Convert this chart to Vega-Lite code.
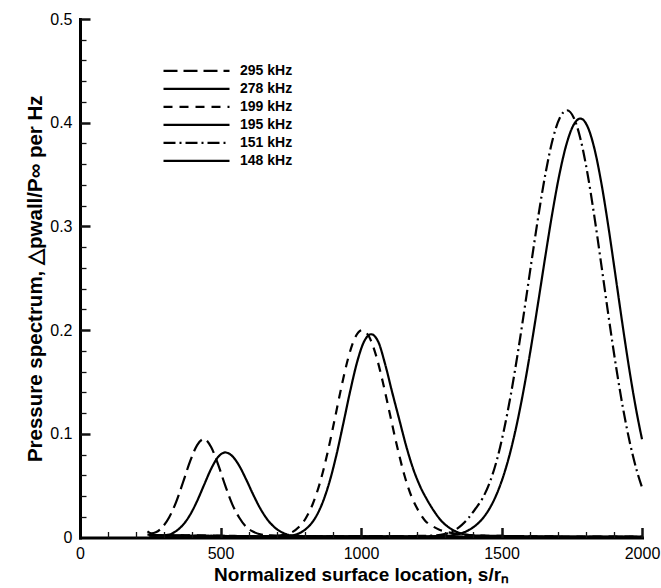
{
"$schema": "https://vega.github.io/schema/vega-lite/v6.json",
"width": 562,
"height": 518.5,
"autosize": {"type": "none"},
"padding": {"left": 80, "top": 19, "right": 19, "bottom": 50.5},
"background": "white",
"config": {"view": {"stroke": null}, "font": "Liberation Sans"},
"data": {"values": [
{"s":240,"p":0.006,"f":"295 kHz"},{"s":255,"p":0.004,"f":"295 kHz"},{"s":270,"p":0.005,"f":"295 kHz"},{"s":292,"p":0.0096,"f":"295 kHz"},{"s":317,"p":0.0193,"f":"295 kHz"},{"s":342,"p":0.0342,"f":"295 kHz"},{"s":367,"p":0.0535,"f":"295 kHz"},{"s":392,"p":0.0736,"f":"295 kHz"},{"s":417,"p":0.0891,"f":"295 kHz"},{"s":442,"p":0.095,"f":"295 kHz"},{"s":467,"p":0.087,"f":"295 kHz"},{"s":492,"p":0.070,"f":"295 kHz"},{"s":517,"p":0.050,"f":"295 kHz"},{"s":542,"p":0.032,"f":"295 kHz"},{"s":567,"p":0.019,"f":"295 kHz"},{"s":592,"p":0.010,"f":"295 kHz"},{"s":617,"p":0.0055,"f":"295 kHz"},{"s":642,"p":0.003,"f":"295 kHz"},{"s":680,"p":0.002,"f":"295 kHz"},{"s":750,"p":0.0015,"f":"295 kHz"},{"s":900,"p":0.001,"f":"295 kHz"},{"s":1100,"p":0.001,"f":"295 kHz"},{"s":1300,"p":0.001,"f":"295 kHz"},{"s":1500,"p":0.0008,"f":"295 kHz"},{"s":1750,"p":0.0006,"f":"295 kHz"},{"s":2000,"p":0.0005,"f":"295 kHz"},
{"s":240,"p":0.003,"f":"278 kHz"},{"s":270,"p":0.002,"f":"278 kHz"},{"s":292,"p":0.002,"f":"278 kHz"},{"s":317,"p":0.0028,"f":"278 kHz"},{"s":342,"p":0.0062,"f":"278 kHz"},{"s":367,"p":0.0123,"f":"278 kHz"},{"s":392,"p":0.022,"f":"278 kHz"},{"s":417,"p":0.0353,"f":"278 kHz"},{"s":442,"p":0.051,"f":"278 kHz"},{"s":467,"p":0.0664,"f":"278 kHz"},{"s":492,"p":0.0778,"f":"278 kHz"},{"s":517,"p":0.082,"f":"278 kHz"},{"s":542,"p":0.0785,"f":"278 kHz"},{"s":567,"p":0.069,"f":"278 kHz"},{"s":592,"p":0.0556,"f":"278 kHz"},{"s":617,"p":0.041,"f":"278 kHz"},{"s":642,"p":0.0278,"f":"278 kHz"},{"s":667,"p":0.0173,"f":"278 kHz"},{"s":692,"p":0.0099,"f":"278 kHz"},{"s":717,"p":0.0052,"f":"278 kHz"},{"s":742,"p":0.0025,"f":"278 kHz"},{"s":767,"p":0.0015,"f":"278 kHz"},{"s":850,"p":0.001,"f":"278 kHz"},{"s":1000,"p":0.001,"f":"278 kHz"},{"s":1200,"p":0.0008,"f":"278 kHz"},{"s":1500,"p":0.0007,"f":"278 kHz"},{"s":2000,"p":0.0005,"f":"278 kHz"},
{"s":245,"p":0.002,"f":"199 kHz"},{"s":400,"p":0.002,"f":"199 kHz"},{"s":550,"p":0.0015,"f":"199 kHz"},{"s":650,"p":0.001,"f":"199 kHz"},{"s":704,"p":0.0015,"f":"199 kHz"},{"s":729,"p":0.003,"f":"199 kHz"},{"s":754,"p":0.005,"f":"199 kHz"},{"s":779,"p":0.0101,"f":"199 kHz"},{"s":804,"p":0.0188,"f":"199 kHz"},{"s":829,"p":0.0328,"f":"199 kHz"},{"s":854,"p":0.0529,"f":"199 kHz"},{"s":879,"p":0.0795,"f":"199 kHz"},{"s":904,"p":0.1108,"f":"199 kHz"},{"s":929,"p":0.1435,"f":"199 kHz"},{"s":954,"p":0.1726,"f":"199 kHz"},{"s":979,"p":0.1928,"f":"199 kHz"},{"s":1004,"p":0.200,"f":"199 kHz"},{"s":1029,"p":0.1935,"f":"199 kHz"},{"s":1054,"p":0.1751,"f":"199 kHz"},{"s":1079,"p":0.1483,"f":"199 kHz"},{"s":1104,"p":0.1176,"f":"199 kHz"},{"s":1129,"p":0.0872,"f":"199 kHz"},{"s":1154,"p":0.0605,"f":"199 kHz"},{"s":1179,"p":0.040,"f":"199 kHz"},{"s":1204,"p":0.026,"f":"199 kHz"},{"s":1229,"p":0.016,"f":"199 kHz"},{"s":1254,"p":0.011,"f":"199 kHz"},{"s":1279,"p":0.0075,"f":"199 kHz"},{"s":1304,"p":0.0055,"f":"199 kHz"},{"s":1330,"p":0.004,"f":"199 kHz"},{"s":1360,"p":0.003,"f":"199 kHz"},{"s":1400,"p":0.002,"f":"199 kHz"},{"s":1500,"p":0.0015,"f":"199 kHz"},{"s":1700,"p":0.001,"f":"199 kHz"},{"s":2000,"p":0.0008,"f":"199 kHz"},
{"s":245,"p":0.002,"f":"195 kHz"},{"s":450,"p":0.0015,"f":"195 kHz"},{"s":650,"p":0.001,"f":"195 kHz"},{"s":736,"p":0.001,"f":"195 kHz"},{"s":761,"p":0.0023,"f":"195 kHz"},{"s":786,"p":0.0049,"f":"195 kHz"},{"s":811,"p":0.0099,"f":"195 kHz"},{"s":836,"p":0.0184,"f":"195 kHz"},{"s":861,"p":0.0321,"f":"195 kHz"},{"s":886,"p":0.0519,"f":"195 kHz"},{"s":911,"p":0.0778,"f":"195 kHz"},{"s":936,"p":0.1086,"f":"195 kHz"},{"s":961,"p":0.1405,"f":"195 kHz"},{"s":986,"p":0.169,"f":"195 kHz"},{"s":1011,"p":0.189,"f":"195 kHz"},{"s":1036,"p":0.196,"f":"195 kHz"},{"s":1061,"p":0.189,"f":"195 kHz"},{"s":1086,"p":0.167,"f":"195 kHz"},{"s":1111,"p":0.140,"f":"195 kHz"},{"s":1136,"p":0.114,"f":"195 kHz"},{"s":1161,"p":0.088,"f":"195 kHz"},{"s":1186,"p":0.066,"f":"195 kHz"},{"s":1211,"p":0.049,"f":"195 kHz"},{"s":1236,"p":0.036,"f":"195 kHz"},{"s":1261,"p":0.025,"f":"195 kHz"},{"s":1286,"p":0.016,"f":"195 kHz"},{"s":1311,"p":0.010,"f":"195 kHz"},{"s":1336,"p":0.006,"f":"195 kHz"},{"s":1361,"p":0.0035,"f":"195 kHz"},{"s":1400,"p":0.002,"f":"195 kHz"},{"s":1500,"p":0.0015,"f":"195 kHz"},{"s":1700,"p":0.001,"f":"195 kHz"},{"s":2000,"p":0.0008,"f":"195 kHz"},
{"s":250,"p":0.002,"f":"151 kHz"},{"s":500,"p":0.0015,"f":"151 kHz"},{"s":800,"p":0.001,"f":"151 kHz"},{"s":1100,"p":0.001,"f":"151 kHz"},{"s":1200,"p":0.0015,"f":"151 kHz"},{"s":1258,"p":0.002,"f":"151 kHz"},{"s":1283,"p":0.0025,"f":"151 kHz"},{"s":1308,"p":0.004,"f":"151 kHz"},{"s":1333,"p":0.007,"f":"151 kHz"},{"s":1358,"p":0.012,"f":"151 kHz"},{"s":1383,"p":0.019,"f":"151 kHz"},{"s":1408,"p":0.028,"f":"151 kHz"},{"s":1433,"p":0.038,"f":"151 kHz"},{"s":1458,"p":0.053,"f":"151 kHz"},{"s":1483,"p":0.0742,"f":"151 kHz"},{"s":1508,"p":0.1028,"f":"151 kHz"},{"s":1533,"p":0.1375,"f":"151 kHz"},{"s":1558,"p":0.1779,"f":"151 kHz"},{"s":1583,"p":0.2223,"f":"151 kHz"},{"s":1608,"p":0.2684,"f":"151 kHz"},{"s":1633,"p":0.3132,"f":"151 kHz"},{"s":1658,"p":0.3531,"f":"151 kHz"},{"s":1683,"p":0.3847,"f":"151 kHz"},{"s":1708,"p":0.405,"f":"151 kHz"},{"s":1733,"p":0.412,"f":"151 kHz"},{"s":1758,"p":0.4043,"f":"151 kHz"},{"s":1783,"p":0.3822,"f":"151 kHz"},{"s":1808,"p":0.3479,"f":"151 kHz"},{"s":1833,"p":0.305,"f":"151 kHz"},{"s":1858,"p":0.2576,"f":"151 kHz"},{"s":1883,"p":0.2095,"f":"151 kHz"},{"s":1908,"p":0.1642,"f":"151 kHz"},{"s":1933,"p":0.1238,"f":"151 kHz"},{"s":1958,"p":0.09,"f":"151 kHz"},{"s":1983,"p":0.063,"f":"151 kHz"},{"s":2000,"p":0.0484,"f":"151 kHz"},
{"s":250,"p":0.002,"f":"148 kHz"},{"s":500,"p":0.0015,"f":"148 kHz"},{"s":800,"p":0.001,"f":"148 kHz"},{"s":1100,"p":0.001,"f":"148 kHz"},{"s":1250,"p":0.0012,"f":"148 kHz"},{"s":1306,"p":0.0015,"f":"148 kHz"},{"s":1331,"p":0.0025,"f":"148 kHz"},{"s":1356,"p":0.004,"f":"148 kHz"},{"s":1381,"p":0.0068,"f":"148 kHz"},{"s":1406,"p":0.0112,"f":"148 kHz"},{"s":1431,"p":0.0177,"f":"148 kHz"},{"s":1456,"p":0.0273,"f":"148 kHz"},{"s":1481,"p":0.0407,"f":"148 kHz"},{"s":1506,"p":0.0587,"f":"148 kHz"},{"s":1531,"p":0.082,"f":"148 kHz"},{"s":1556,"p":0.1111,"f":"148 kHz"},{"s":1581,"p":0.1456,"f":"148 kHz"},{"s":1606,"p":0.185,"f":"148 kHz"},{"s":1631,"p":0.2276,"f":"148 kHz"},{"s":1656,"p":0.2712,"f":"148 kHz"},{"s":1681,"p":0.313,"f":"148 kHz"},{"s":1706,"p":0.35,"f":"148 kHz"},{"s":1731,"p":0.379,"f":"148 kHz"},{"s":1756,"p":0.3976,"f":"148 kHz"},{"s":1781,"p":0.404,"f":"148 kHz"},{"s":1806,"p":0.3964,"f":"148 kHz"},{"s":1831,"p":0.3746,"f":"148 kHz"},{"s":1856,"p":0.3408,"f":"148 kHz"},{"s":1881,"p":0.2986,"f":"148 kHz"},{"s":1906,"p":0.2519,"f":"148 kHz"},{"s":1931,"p":0.2047,"f":"148 kHz"},{"s":1956,"p":0.1601,"f":"148 kHz"},{"s":1981,"p":0.1206,"f":"148 kHz"},{"s":2000,"p":0.0948,"f":"148 kHz"}
]},
"layer": [
{
"mark": {"type": "line", "interpolate": "monotone", "strokeWidth": 2.2, "color": "black"},
"encoding": {
"x": {"field": "s", "type": "quantitative", "scale": {"domain": [0, 2000], "nice": false, "zero": false},
 "axis": {"orient": "bottom", "values": [0, 500, 1000, 1500, 2000], "format": "d", "ticks": false, "domainColor": "black", "domainWidth": 3, "domainCap": "square", "labelFontSize": 16, "labelColor": "black", "labelPadding": 8, "labelFlush": false, "labelOverlap": false, "grid": false, "title": "Normalized surface location, s/rₙ", "titleFontSize": 19, "titleFontWeight": "bold", "titleColor": "black", "titlePadding": 4}},
"y": {"field": "p", "type": "quantitative", "scale": {"domain": [0, 0.5], "nice": false, "zero": false},
 "axis": {"orient": "left", "values": [0, 0.1, 0.2, 0.3, 0.4, 0.5], "format": "~g", "ticks": false, "domainColor": "black", "domainWidth": 3, "domainCap": "square", "labelFontSize": 16, "labelColor": "black", "labelPadding": 8, "labelFlush": false, "labelOverlap": false, "grid": false, "title": "Pressure spectrum, △pwall/P∞ per Hz", "titleFontSize": 20.5, "titleFontWeight": "bold", "titleColor": "black", "titlePadding": 4}},
"strokeDash": {"field": "f", "type": "nominal",
 "scale": {"domain": ["295 kHz", "278 kHz", "199 kHz", "195 kHz", "151 kHz", "148 kHz"], "range": [[14, 6], [1, 0], [9, 7], [1, 0], [12, 4, 2, 4], [1, 0]]},
 "legend": {"title": null, "orient": "none", "legendX": 82, "legendY": 44, "padding": 0, "symbolType": "stroke", "symbolSize": 4356, "symbolStrokeWidth": 2.2, "symbolStrokeColor": "black", "clipHeight": 15.6, "rowPadding": 2, "labelFont": "Liberation Sans", "labelFontSize": 14, "labelFontWeight": "bold", "labelColor": "black", "labelOffset": 9}}
}
},
{
"mark": {"type": "point", "opacity": 0},
"encoding": {
"x": {"field": "s", "type": "quantitative", "scale": {"domain": [0, 2000], "nice": false, "zero": false},
 "axis": {"orient": "top", "offset": -518.5, "values": [500, 1000, 1500, 2000], "ticks": true, "zindex": 2, "tickSize": 10, "tickWidth": 2.5, "tickColor": "#111111", "tickOpacity": 1, "labelColor": "transparent", "domainColor": "transparent", "grid": false, "title": "t", "titleColor": "transparent"}},
"y": {"field": "p", "type": "quantitative", "scale": {"domain": [0, 0.5], "nice": false, "zero": false},
 "axis": {"orient": "right", "offset": -562, "values": [0.1, 0.2, 0.3, 0.4, 0.5], "ticks": true, "zindex": 2, "tickSize": 10, "tickWidth": 2.5, "tickColor": "#111111", "tickOpacity": 1, "labelColor": "transparent", "domainColor": "transparent", "grid": false, "title": "r", "titleColor": "transparent"}}
}
},
{
"mark": {"type": "line", "strokeOpacity": 0},
"encoding": {
"x": {"field": "s", "type": "quantitative", "scale": {"domain": [0, 2000], "nice": false, "zero": false},
 "axis": {"orient": "top", "offset": -518.5, "values": [100, 200, 300, 400, 600, 700, 800, 900, 1100, 1200, 1300, 1400, 1600, 1700, 1800, 1900], "ticks": true, "zindex": 2, "tickSize": 6, "tickWidth": 1.3, "tickColor": "#111111", "tickOpacity": 1, "labelColor": "transparent", "domain": false, "grid": false, "title": "t", "titleColor": "transparent"}},
"y": {"field": "p", "type": "quantitative", "scale": {"domain": [0, 0.5], "nice": false, "zero": false},
 "axis": {"orient": "right", "offset": -562, "values": [0.02, 0.04, 0.06, 0.08, 0.12, 0.14, 0.16, 0.18, 0.22, 0.24, 0.26, 0.28, 0.32, 0.34, 0.36, 0.38, 0.42, 0.44, 0.46, 0.48], "ticks": true, "zindex": 2, "tickSize": 6, "tickWidth": 1.3, "tickColor": "#111111", "tickOpacity": 1, "labelColor": "transparent", "domain": false, "grid": false, "title": "r", "titleColor": "transparent"}}
}
}
],
"resolve": {"scale": {"x": "independent", "y": "independent"}, "axis": {"x": "independent", "y": "independent"}}
}
